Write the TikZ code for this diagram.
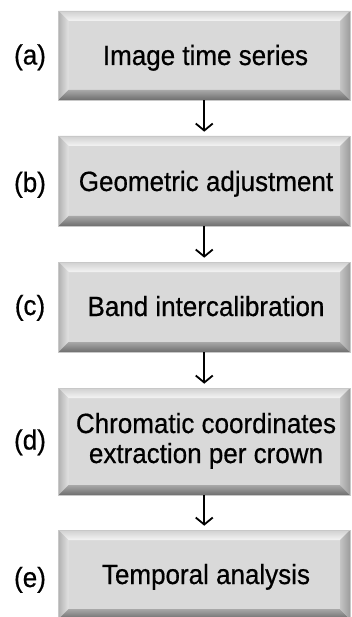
\documentclass[tikz,border=0pt]{standalone}
\usepackage{fontspec}
\setmainfont{Liberation Sans}
\newfontfamily\heavysans{Liberation Sans}[FakeBold=0.6]
\usetikzlibrary{calc,arrows.meta}
\definecolor{boxfill}{HTML}{D9D9D9}
\definecolor{topout}{HTML}{D0D0D0}
\definecolor{topin}{HTML}{F4F4F4}
\definecolor{leftout}{HTML}{B2B2B2}
\definecolor{leftin}{HTML}{E2E2E2}
\definecolor{botin}{HTML}{A8A8A8}
\definecolor{botout}{HTML}{6E6E6E}
\definecolor{rightin}{HTML}{C4C4C4}
\definecolor{rightout}{HTML}{9C9C9C}
\definecolor{edgecol}{HTML}{C8C8C8}
\newcommand{\vstretch}[1]{\scalebox{1}[1.07]{#1}}
\begin{document}
\begin{tikzpicture}[x=1pt,y=-1pt,
  bevelbox/.style={rectangle, inner sep=0pt, minimum width=291.5pt, fill=boxfill,
    draw=edgecol, line width=0.6pt,
    path picture={
      \path (path picture bounding box.north west) coordinate (pnw)
            (path picture bounding box.north east) coordinate (pne)
            (path picture bounding box.south west) coordinate (psw)
            (path picture bounding box.south east) coordinate (pse);
      \shade[top color=topout, bottom color=topin]
        (pnw) -- (pne) -- ($(pne)+(-10pt,-10pt)$) -- ($(pnw)+(10pt,-10pt)$) -- cycle;
      \shade[left color=leftout, right color=leftin]
        (pnw) -- ($(pnw)+(10pt,-10pt)$) -- ($(psw)+(10pt,10pt)$) -- (psw) -- cycle;
      \shade[top color=botin, bottom color=botout]
        (psw) -- ($(psw)+(10pt,10pt)$) -- ($(pse)+(-10pt,10pt)$) -- (pse) -- cycle;
      \shade[left color=rightin, right color=rightout]
        (pne) -- (pse) -- ($(pse)+(-10pt,10pt)$) -- ($(pne)+(-10pt,-10pt)$) -- cycle;
    }},
  boxtext/.style={font=\heavysans\fontsize{26}{30}\selectfont, text=black, inner sep=0pt, anchor=base},
  lab/.style={font=\heavysans\fontsize{26}{30}\selectfont, text=black, inner sep=0pt, anchor=base},
  flow/.style={draw=black, line width=1.8pt, -{Straight Barb[length=7pt,width=17pt]}, shorten >=4pt},
]
\useasboundingbox (0,0) rectangle (351,617);
\fill[white] (0,0) rectangle (351,617);

\node[bevelbox, minimum height=89pt] (a) at (204.25,55.5) {};
\node[bevelbox, minimum height=90pt] (b) at (204.25,181) {};
\node[bevelbox, minimum height=90pt] (c) at (204.25,307) {};
\node[bevelbox, minimum height=107pt] (d) at (204.25,441.5) {};
\node[bevelbox, minimum height=89pt] (e) at (204.25,574.5) {};

\node[boxtext] (ta) at (205.5,65) {\vstretch{Image time series}};
\node[boxtext] (tb) at (206,191) {\vstretch{Geometric adjustment}};
\node[boxtext] (tc) at (206,316) {\vstretch{Band intercalibration}};
\node[boxtext] (td1) at (206,433) {\vstretch{Chromatic coordinates}};
\node[boxtext] (td2) at (206,463) {\vstretch{extraction per crown}};
\node[boxtext] (te) at (206,584) {\vstretch{Temporal analysis}};

\node[lab] (la) at (30,64.5) {\vstretch{(a)}};
\node[lab] (lb) at (30,192) {\vstretch{(b)}};
\node[lab] (lc) at (30,315) {\vstretch{(c)}};
\node[lab] (ld) at (30,449.5) {\vstretch{(d)}};
\node[lab] (le) at (30,587) {\vstretch{(e)}};

\draw[flow] (a.south) -- (b.north);
\draw[flow] (b.south) -- (c.north);
\draw[flow] (c.south) -- (d.north);
\draw[flow] (d.south) -- (e.north);
\end{tikzpicture}
\end{document}
